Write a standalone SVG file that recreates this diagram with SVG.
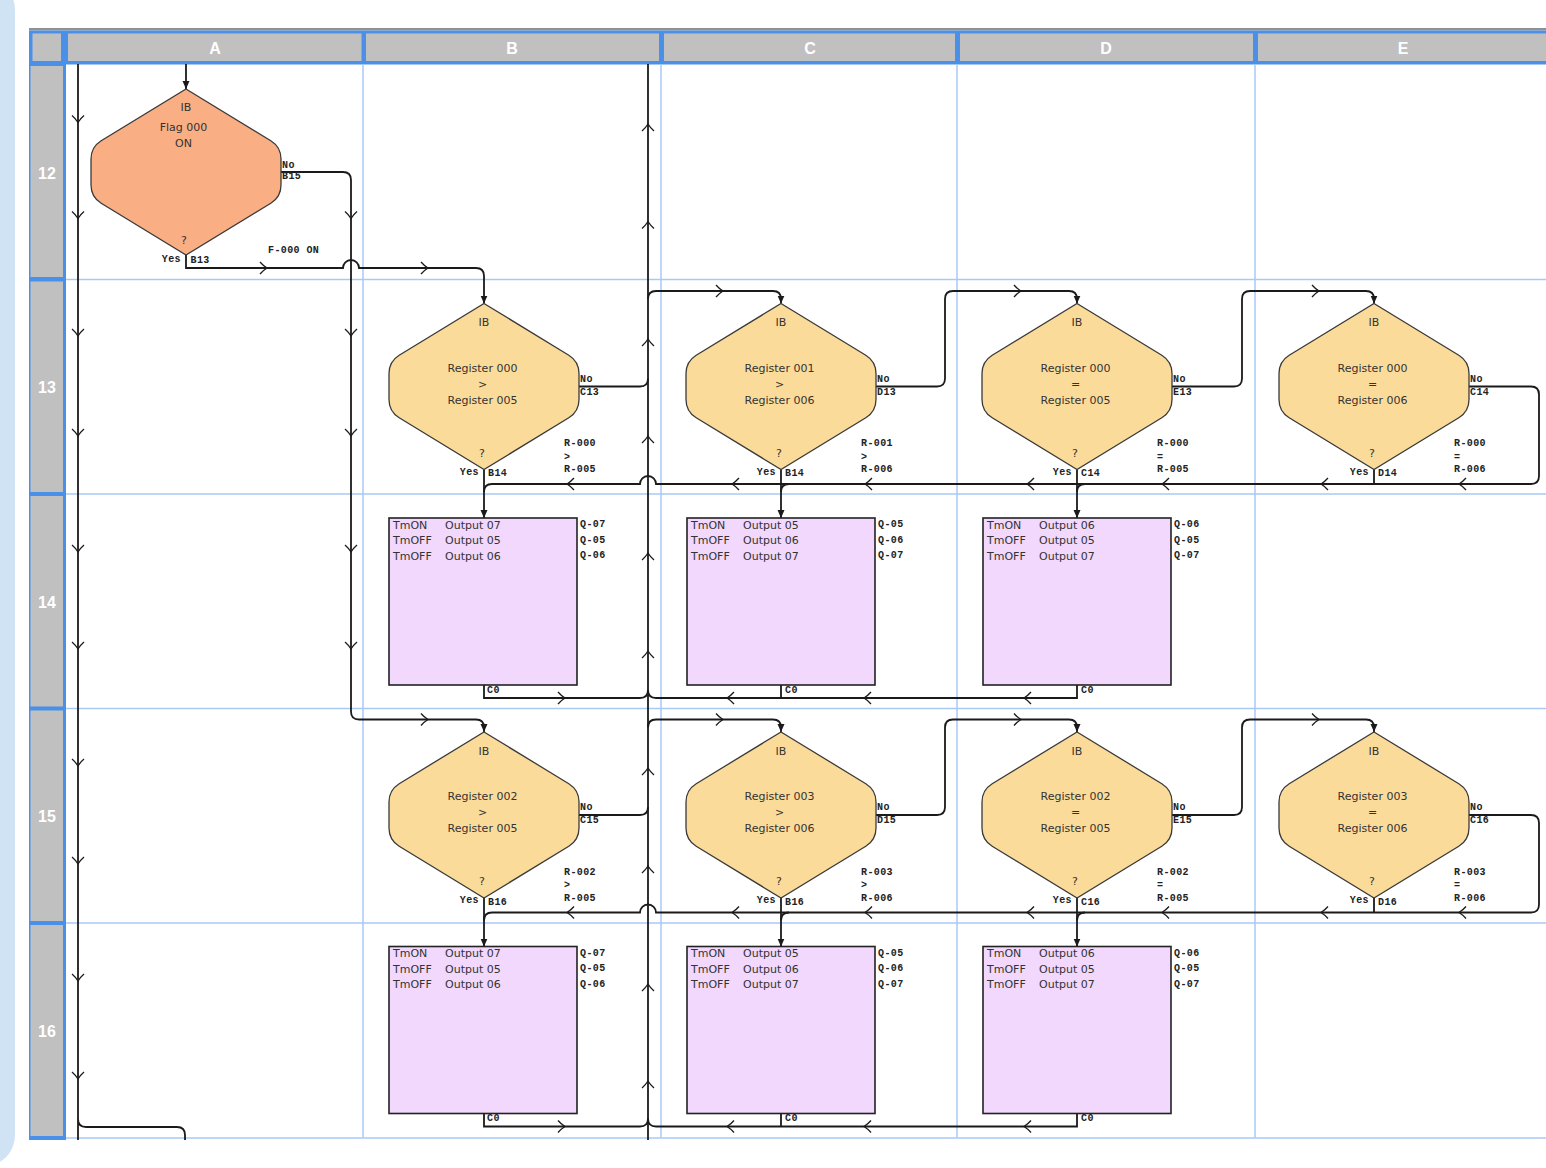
<svg xmlns="http://www.w3.org/2000/svg" xmlns:xlink="http://www.w3.org/1999/xlink" width="1546" height="1168" viewBox="0 0 1546 1168">
<style>
.ln{fill:none;stroke:#1a1a1a;stroke-width:1.8}
.ar{fill:none;stroke:#1a1a1a;stroke-width:1.3}
.dA{fill:#F9AE84;stroke:#3a3a3a;stroke-width:1.3}
.dB{fill:#FBDB9A;stroke:#3a3a3a;stroke-width:1.3}
.bx{fill:#F1D8FC;stroke:#222;stroke-width:1.6}
.t{font-family:"DejaVu Sans","Liberation Sans",sans-serif;font-size:11px;fill:#333}
.c{text-anchor:middle}
.e{text-anchor:end}
.l{font-family:"Liberation Mono","DejaVu Sans Mono",monospace;font-weight:bold;font-size:10px;fill:#222;letter-spacing:0.4px}
.hd{font-family:"Liberation Sans",Arial,sans-serif;font-size:16px;fill:#fff;text-anchor:middle;font-weight:bold}
.gl{stroke:#a9c9f5;stroke-width:1.5;fill:none}
.hg{fill:#c0c0c0}
</style>
<defs>
<marker id="fa" viewBox="0 0 8 8" refX="8" refY="4" markerWidth="8" markerHeight="8" markerUnits="userSpaceOnUse" orient="auto"><path d="M0,0.5 L8,4 L0,7.5 z" fill="#1a1a1a"/></marker>
<path id="ch" class="ar" d="M-6,-7 Q-2.5,-4 0,0 Q2.5,-4 6,-7"/>
<path id="dia" d="M0,0 L84.8,51.7 Q95,58 95,70 V96 Q95,108 84.8,114.3 L0,166 L-84.8,114.3 Q-95,108 -95,96 V70 Q-95,58 -84.8,51.7 Z"/>
</defs>
<rect x="0" y="0" width="1546" height="1168" fill="#fff"/>
<rect x="-40" y="-20" width="55" height="1185" rx="30" fill="#d0e3f4"/>
<g id="grid">
<rect x="29" y="28" width="1517" height="2.5" fill="#909090"/>
<rect x="29" y="30.5" width="1517" height="34" fill="#4a90e8"/>
<rect class="hg" x="32.5" y="33.5" width="28.5" height="27.5"/>
<rect class="hg" x="68" y="33.5" width="293.5" height="27.5"/>
<rect class="hg" x="366" y="33.5" width="293" height="27.5"/>
<rect class="hg" x="664" y="33.5" width="291" height="27.5"/>
<rect class="hg" x="960" y="33.5" width="293" height="27.5"/>
<rect class="hg" x="1258" y="33.5" width="288" height="27.5"/>
<rect x="29" y="64" width="37" height="1076" fill="#4a90e8"/>
<rect class="hg" x="30.5" y="66" width="32.5" height="211"/>
<rect class="hg" x="30.5" y="281.5" width="32.5" height="210.5"/>
<rect class="hg" x="30.5" y="496" width="32.5" height="210.5"/>
<rect class="hg" x="30.5" y="710.5" width="32.5" height="210.5"/>
<rect class="hg" x="30.5" y="925" width="32.5" height="211"/>
<path class="gl" d="M66,279.5 H1546 M66,494 H1546 M66,708.5 H1546 M66,923 H1546 M66,1138 H1546 M363,64 V1138 M661,64 V1138 M957,64 V1138 M1255,64 V1138"/>
<text class="hd" x="215" y="54">A</text>
<text class="hd" x="512" y="54">B</text>
<text class="hd" x="810" y="54">C</text>
<text class="hd" x="1106" y="54">D</text>
<text class="hd" x="1403" y="54">E</text>
<text class="hd" x="47" y="179">12</text>
<text class="hd" x="47" y="393">13</text>
<text class="hd" x="47" y="608">14</text>
<text class="hd" x="47" y="822">15</text>
<text class="hd" x="47" y="1037">16</text>
</g>
<g id="connectors">
<path class="ln" d="M78,64 V1140 M78,1119 Q78,1127 86,1127 H177 Q185,1127 185,1135 V1140"/>
<path class="ln" d="M648,64 V1140"/>
<path class="ln" marker-end="url(#fa)" d="M186,64 V89"/>
<path class="ln" marker-end="url(#fa)" d="M186,255 V268 H343 A8,8 0 0 1 359,268 H476 Q484,268 484,276 V303.5"/>
<path class="ln" marker-end="url(#fa)" d="M281,172 H343 Q351,172 351,180 V711.5 Q351,719.5 359,719.5 H476 Q484,719.5 484,727.5 V732"/>
<!-- row 13 -->
<path class="ln" d="M579,386.5 H640 Q648,386.5 648,378.5"/>
<path class="ln" marker-end="url(#fa)" d="M648,299 Q648,291 656,291 H773 Q781,291 781,299 V303.5"/>
<path class="ln" marker-end="url(#fa)" d="M876,386.5 H937 Q945,386.5 945,378.5 V299 Q945,291 953,291 H1069 Q1077,291 1077,299 V303.5"/>
<path class="ln" marker-end="url(#fa)" d="M1172,386.5 H1234 Q1242,386.5 1242,378.5 V299 Q1242,291 1250,291 H1366 Q1374,291 1374,299 V303.5"/>
<path class="ln" d="M1469,386.5 H1531 Q1539,386.5 1539,394.5 V476 Q1539,484 1531,484 H656 A8,8 0 0 0 640,484 H492 Q484,484 484,492"/>
<path class="ln" marker-end="url(#fa)" d="M484,469.5 V518"/>
<path class="ln" marker-end="url(#fa)" d="M781,469.5 V518"/>
<path class="ln" marker-end="url(#fa)" d="M1077,469.5 V518"/>
<path class="ln" d="M1374,469.5 V484 M789,484 Q781,484 781,492 M1085,484 Q1077,484 1077,492"/>
<path class="ln" d="M484,685 V698 H640 Q648,698 648,690 M1077,685 V698 H656 Q648,698 648,690 M781,685 V698"/>
<!-- row 15 -->
<path class="ln" d="M579,815 H640 Q648,815 648,807"/>
<path class="ln" marker-end="url(#fa)" d="M648,727.5 Q648,719.5 656,719.5 H773 Q781,719.5 781,727.5 V732"/>
<path class="ln" marker-end="url(#fa)" d="M876,815 H937 Q945,815 945,807 V727.5 Q945,719.5 953,719.5 H1069 Q1077,719.5 1077,727.5 V732"/>
<path class="ln" marker-end="url(#fa)" d="M1172,815 H1234 Q1242,815 1242,807 V727.5 Q1242,719.5 1250,719.5 H1366 Q1374,719.5 1374,727.5 V732"/>
<path class="ln" d="M1469,815 H1531 Q1539,815 1539,823 V904.5 Q1539,912.5 1531,912.5 H656 A8,8 0 0 0 640,912.5 H492 Q484,912.5 484,920.5"/>
<path class="ln" marker-end="url(#fa)" d="M484,898 V946.5"/>
<path class="ln" marker-end="url(#fa)" d="M781,898 V946.5"/>
<path class="ln" marker-end="url(#fa)" d="M1077,898 V946.5"/>
<path class="ln" d="M1374,898 V912.5 M789,912.5 Q781,912.5 781,920.5 M1085,912.5 Q1077,912.5 1077,920.5"/>
<path class="ln" d="M484,1113.5 V1126.5 H640 Q648,1126.5 648,1118.5 M1077,1113.5 V1126.5 H656 Q648,1126.5 648,1118.5 M781,1113.5 V1126.5"/>
<!-- chevrons: down on left bus -->
<use xlink:href="#ch" transform="translate(78,122.5)"/>
<use xlink:href="#ch" transform="translate(78,218.5)"/>
<use xlink:href="#ch" transform="translate(78,336)"/>
<use xlink:href="#ch" transform="translate(78,436)"/>
<use xlink:href="#ch" transform="translate(78,552)"/>
<use xlink:href="#ch" transform="translate(78,649)"/>
<use xlink:href="#ch" transform="translate(78,766)"/>
<use xlink:href="#ch" transform="translate(78,864)"/>
<use xlink:href="#ch" transform="translate(78,981)"/>
<use xlink:href="#ch" transform="translate(78,1079)"/>
<use xlink:href="#ch" transform="translate(351,218.5)"/>
<use xlink:href="#ch" transform="translate(351,336)"/>
<use xlink:href="#ch" transform="translate(351,436)"/>
<use xlink:href="#ch" transform="translate(351,552)"/>
<use xlink:href="#ch" transform="translate(351,649)"/>
<!-- up on central bus -->
<use xlink:href="#ch" transform="translate(648,124) rotate(180)"/>
<use xlink:href="#ch" transform="translate(648,221.5) rotate(180)"/>
<use xlink:href="#ch" transform="translate(648,339) rotate(180)"/>
<use xlink:href="#ch" transform="translate(648,436) rotate(180)"/>
<use xlink:href="#ch" transform="translate(648,553) rotate(180)"/>
<use xlink:href="#ch" transform="translate(648,651) rotate(180)"/>
<use xlink:href="#ch" transform="translate(648,768) rotate(180)"/>
<use xlink:href="#ch" transform="translate(648,866) rotate(180)"/>
<use xlink:href="#ch" transform="translate(648,984) rotate(180)"/>
<use xlink:href="#ch" transform="translate(648,1081) rotate(180)"/>
<!-- right -->
<use xlink:href="#ch" transform="translate(267,268) rotate(-90)"/>
<use xlink:href="#ch" transform="translate(428,268) rotate(-90)"/>
<use xlink:href="#ch" transform="translate(428,719.5) rotate(-90)"/>
<use xlink:href="#ch" transform="translate(723,291) rotate(-90)"/>
<use xlink:href="#ch" transform="translate(1021,291) rotate(-90)"/>
<use xlink:href="#ch" transform="translate(1319,291) rotate(-90)"/>
<use xlink:href="#ch" transform="translate(723,719.5) rotate(-90)"/>
<use xlink:href="#ch" transform="translate(1021,719.5) rotate(-90)"/>
<use xlink:href="#ch" transform="translate(1319,719.5) rotate(-90)"/>
<use xlink:href="#ch" transform="translate(565,698) rotate(-90)"/>
<use xlink:href="#ch" transform="translate(565,1126.5) rotate(-90)"/>
<!-- left -->
<use xlink:href="#ch" transform="translate(567,484) rotate(90)"/>
<use xlink:href="#ch" transform="translate(732,484) rotate(90)"/>
<use xlink:href="#ch" transform="translate(865,484) rotate(90)"/>
<use xlink:href="#ch" transform="translate(1027,484) rotate(90)"/>
<use xlink:href="#ch" transform="translate(1162,484) rotate(90)"/>
<use xlink:href="#ch" transform="translate(1321,484) rotate(90)"/>
<use xlink:href="#ch" transform="translate(1459,484) rotate(90)"/>
<use xlink:href="#ch" transform="translate(567,912.5) rotate(90)"/>
<use xlink:href="#ch" transform="translate(732,912.5) rotate(90)"/>
<use xlink:href="#ch" transform="translate(865,912.5) rotate(90)"/>
<use xlink:href="#ch" transform="translate(1027,912.5) rotate(90)"/>
<use xlink:href="#ch" transform="translate(1162,912.5) rotate(90)"/>
<use xlink:href="#ch" transform="translate(1321,912.5) rotate(90)"/>
<use xlink:href="#ch" transform="translate(1459,912.5) rotate(90)"/>
<use xlink:href="#ch" transform="translate(727,698) rotate(90)"/>
<use xlink:href="#ch" transform="translate(864,698) rotate(90)"/>
<use xlink:href="#ch" transform="translate(1024,698) rotate(90)"/>
<use xlink:href="#ch" transform="translate(727,1126.5) rotate(90)"/>
<use xlink:href="#ch" transform="translate(864,1126.5) rotate(90)"/>
<use xlink:href="#ch" transform="translate(1024,1126.5) rotate(90)"/>
<text class="l" x="268" y="253.3">F-000 ON</text>
</g>
<g id="A12" transform="translate(186,89)">
<use xlink:href="#dia" class="dA"/>
<text class="t c" x="0" y="22">IB</text>
<text class="t c" x="-2.5" y="41.7">Flag 000</text>
<text class="t c" x="-2.5" y="57.7">ON</text>
<text class="t c" x="-2" y="155">?</text>
<text class="l" x="96" y="79">No</text>
<text class="l" x="96" y="90.3">B15</text>
<text class="l e" x="-5" y="172.7">Yes</text>
<text class="l" x="4.5" y="174.3">B13</text>
</g>
<g id="B13" transform="translate(484,303.5)">
<use xlink:href="#dia" class="dB"/>
<text class="t c" x="0" y="22.5">IB</text>
<text class="t c" x="-1.5" y="68">Register 000</text>
<text class="t c" x="-1.5" y="84">&gt;</text>
<text class="t c" x="-1.5" y="100">Register 005</text>
<text class="t c" x="-2" y="153">?</text>
<text class="l" x="96" y="78">No</text>
<text class="l" x="96" y="91">C13</text>
<text class="l" x="80" y="142.7">R-000</text>
<text class="l" x="80" y="156">&gt;</text>
<text class="l" x="80" y="168.7">R-005</text>
<text class="l e" x="-5" y="171">Yes</text>
<text class="l" x="4" y="172.7">B14</text>
</g>
<g id="C13" transform="translate(781,303.5)">
<use xlink:href="#dia" class="dB"/>
<text class="t c" x="0" y="22.5">IB</text>
<text class="t c" x="-1.5" y="68">Register 001</text>
<text class="t c" x="-1.5" y="84">&gt;</text>
<text class="t c" x="-1.5" y="100">Register 006</text>
<text class="t c" x="-2" y="153">?</text>
<text class="l" x="96" y="78">No</text>
<text class="l" x="96" y="91">D13</text>
<text class="l" x="80" y="142.7">R-001</text>
<text class="l" x="80" y="156">&gt;</text>
<text class="l" x="80" y="168.7">R-006</text>
<text class="l e" x="-5" y="171">Yes</text>
<text class="l" x="4" y="172.7">B14</text>
</g>
<g id="D13" transform="translate(1077,303.5)">
<use xlink:href="#dia" class="dB"/>
<text class="t c" x="0" y="22.5">IB</text>
<text class="t c" x="-1.5" y="68">Register 000</text>
<text class="t c" x="-1.5" y="84">=</text>
<text class="t c" x="-1.5" y="100">Register 005</text>
<text class="t c" x="-2" y="153">?</text>
<text class="l" x="96" y="78">No</text>
<text class="l" x="96" y="91">E13</text>
<text class="l" x="80" y="142.7">R-000</text>
<text class="l" x="80" y="156">=</text>
<text class="l" x="80" y="168.7">R-005</text>
<text class="l e" x="-5" y="171">Yes</text>
<text class="l" x="4" y="172.7">C14</text>
</g>
<g id="E13" transform="translate(1374,303.5)">
<use xlink:href="#dia" class="dB"/>
<text class="t c" x="0" y="22.5">IB</text>
<text class="t c" x="-1.5" y="68">Register 000</text>
<text class="t c" x="-1.5" y="84">=</text>
<text class="t c" x="-1.5" y="100">Register 006</text>
<text class="t c" x="-2" y="153">?</text>
<text class="l" x="96" y="78">No</text>
<text class="l" x="96" y="91">C14</text>
<text class="l" x="80" y="142.7">R-000</text>
<text class="l" x="80" y="156">=</text>
<text class="l" x="80" y="168.7">R-006</text>
<text class="l e" x="-5" y="171">Yes</text>
<text class="l" x="4" y="172.7">D14</text>
</g>
<g id="B15" transform="translate(484,732)">
<use xlink:href="#dia" class="dB"/>
<text class="t c" x="0" y="22.5">IB</text>
<text class="t c" x="-1.5" y="68">Register 002</text>
<text class="t c" x="-1.5" y="84">&gt;</text>
<text class="t c" x="-1.5" y="100">Register 005</text>
<text class="t c" x="-2" y="153">?</text>
<text class="l" x="96" y="78">No</text>
<text class="l" x="96" y="91">C15</text>
<text class="l" x="80" y="142.7">R-002</text>
<text class="l" x="80" y="156">&gt;</text>
<text class="l" x="80" y="168.7">R-005</text>
<text class="l e" x="-5" y="171">Yes</text>
<text class="l" x="4" y="172.7">B16</text>
</g>
<g id="C15" transform="translate(781,732)">
<use xlink:href="#dia" class="dB"/>
<text class="t c" x="0" y="22.5">IB</text>
<text class="t c" x="-1.5" y="68">Register 003</text>
<text class="t c" x="-1.5" y="84">&gt;</text>
<text class="t c" x="-1.5" y="100">Register 006</text>
<text class="t c" x="-2" y="153">?</text>
<text class="l" x="96" y="78">No</text>
<text class="l" x="96" y="91">D15</text>
<text class="l" x="80" y="142.7">R-003</text>
<text class="l" x="80" y="156">&gt;</text>
<text class="l" x="80" y="168.7">R-006</text>
<text class="l e" x="-5" y="171">Yes</text>
<text class="l" x="4" y="172.7">B16</text>
</g>
<g id="D15" transform="translate(1077,732)">
<use xlink:href="#dia" class="dB"/>
<text class="t c" x="0" y="22.5">IB</text>
<text class="t c" x="-1.5" y="68">Register 002</text>
<text class="t c" x="-1.5" y="84">=</text>
<text class="t c" x="-1.5" y="100">Register 005</text>
<text class="t c" x="-2" y="153">?</text>
<text class="l" x="96" y="78">No</text>
<text class="l" x="96" y="91">E15</text>
<text class="l" x="80" y="142.7">R-002</text>
<text class="l" x="80" y="156">=</text>
<text class="l" x="80" y="168.7">R-005</text>
<text class="l e" x="-5" y="171">Yes</text>
<text class="l" x="4" y="172.7">C16</text>
</g>
<g id="E15" transform="translate(1374,732)">
<use xlink:href="#dia" class="dB"/>
<text class="t c" x="0" y="22.5">IB</text>
<text class="t c" x="-1.5" y="68">Register 003</text>
<text class="t c" x="-1.5" y="84">=</text>
<text class="t c" x="-1.5" y="100">Register 006</text>
<text class="t c" x="-2" y="153">?</text>
<text class="l" x="96" y="78">No</text>
<text class="l" x="96" y="91">C16</text>
<text class="l" x="80" y="142.7">R-003</text>
<text class="l" x="80" y="156">=</text>
<text class="l" x="80" y="168.7">R-006</text>
<text class="l e" x="-5" y="171">Yes</text>
<text class="l" x="4" y="172.7">D16</text>
</g>
<g id="B14" transform="translate(389,518)">
<rect class="bx" x="0" y="0" width="188" height="167"/>
<text class="t" x="4" y="10.5">TmON</text><text class="t" x="56" y="10.5">Output 07</text>
<text class="t" x="4" y="26">TmOFF</text><text class="t" x="56" y="26">Output 05</text>
<text class="t" x="4" y="41.5">TmOFF</text><text class="t" x="56" y="41.5">Output 06</text>
<text class="l" x="191" y="9.3">Q-07</text><text class="l" x="191" y="24.7">Q-05</text><text class="l" x="191" y="40.3">Q-06</text>
<text class="l" x="98" y="174.7">C0</text>
</g>
<g id="C14" transform="translate(687,518)">
<rect class="bx" x="0" y="0" width="188" height="167"/>
<text class="t" x="4" y="10.5">TmON</text><text class="t" x="56" y="10.5">Output 05</text>
<text class="t" x="4" y="26">TmOFF</text><text class="t" x="56" y="26">Output 06</text>
<text class="t" x="4" y="41.5">TmOFF</text><text class="t" x="56" y="41.5">Output 07</text>
<text class="l" x="191" y="9.3">Q-05</text><text class="l" x="191" y="24.7">Q-06</text><text class="l" x="191" y="40.3">Q-07</text>
<text class="l" x="98" y="174.7">C0</text>
</g>
<g id="D14" transform="translate(983,518)">
<rect class="bx" x="0" y="0" width="188" height="167"/>
<text class="t" x="4" y="10.5">TmON</text><text class="t" x="56" y="10.5">Output 06</text>
<text class="t" x="4" y="26">TmOFF</text><text class="t" x="56" y="26">Output 05</text>
<text class="t" x="4" y="41.5">TmOFF</text><text class="t" x="56" y="41.5">Output 07</text>
<text class="l" x="191" y="9.3">Q-06</text><text class="l" x="191" y="24.7">Q-05</text><text class="l" x="191" y="40.3">Q-07</text>
<text class="l" x="98" y="174.7">C0</text>
</g>
<g id="B16" transform="translate(389,946.5)">
<rect class="bx" x="0" y="0" width="188" height="167"/>
<text class="t" x="4" y="10.5">TmON</text><text class="t" x="56" y="10.5">Output 07</text>
<text class="t" x="4" y="26">TmOFF</text><text class="t" x="56" y="26">Output 05</text>
<text class="t" x="4" y="41.5">TmOFF</text><text class="t" x="56" y="41.5">Output 06</text>
<text class="l" x="191" y="9.3">Q-07</text><text class="l" x="191" y="24.7">Q-05</text><text class="l" x="191" y="40.3">Q-06</text>
<text class="l" x="98" y="174.7">C0</text>
</g>
<g id="C16" transform="translate(687,946.5)">
<rect class="bx" x="0" y="0" width="188" height="167"/>
<text class="t" x="4" y="10.5">TmON</text><text class="t" x="56" y="10.5">Output 05</text>
<text class="t" x="4" y="26">TmOFF</text><text class="t" x="56" y="26">Output 06</text>
<text class="t" x="4" y="41.5">TmOFF</text><text class="t" x="56" y="41.5">Output 07</text>
<text class="l" x="191" y="9.3">Q-05</text><text class="l" x="191" y="24.7">Q-06</text><text class="l" x="191" y="40.3">Q-07</text>
<text class="l" x="98" y="174.7">C0</text>
</g>
<g id="D16" transform="translate(983,946.5)">
<rect class="bx" x="0" y="0" width="188" height="167"/>
<text class="t" x="4" y="10.5">TmON</text><text class="t" x="56" y="10.5">Output 06</text>
<text class="t" x="4" y="26">TmOFF</text><text class="t" x="56" y="26">Output 05</text>
<text class="t" x="4" y="41.5">TmOFF</text><text class="t" x="56" y="41.5">Output 07</text>
<text class="l" x="191" y="9.3">Q-06</text><text class="l" x="191" y="24.7">Q-05</text><text class="l" x="191" y="40.3">Q-07</text>
<text class="l" x="98" y="174.7">C0</text>
</g>
</svg>
